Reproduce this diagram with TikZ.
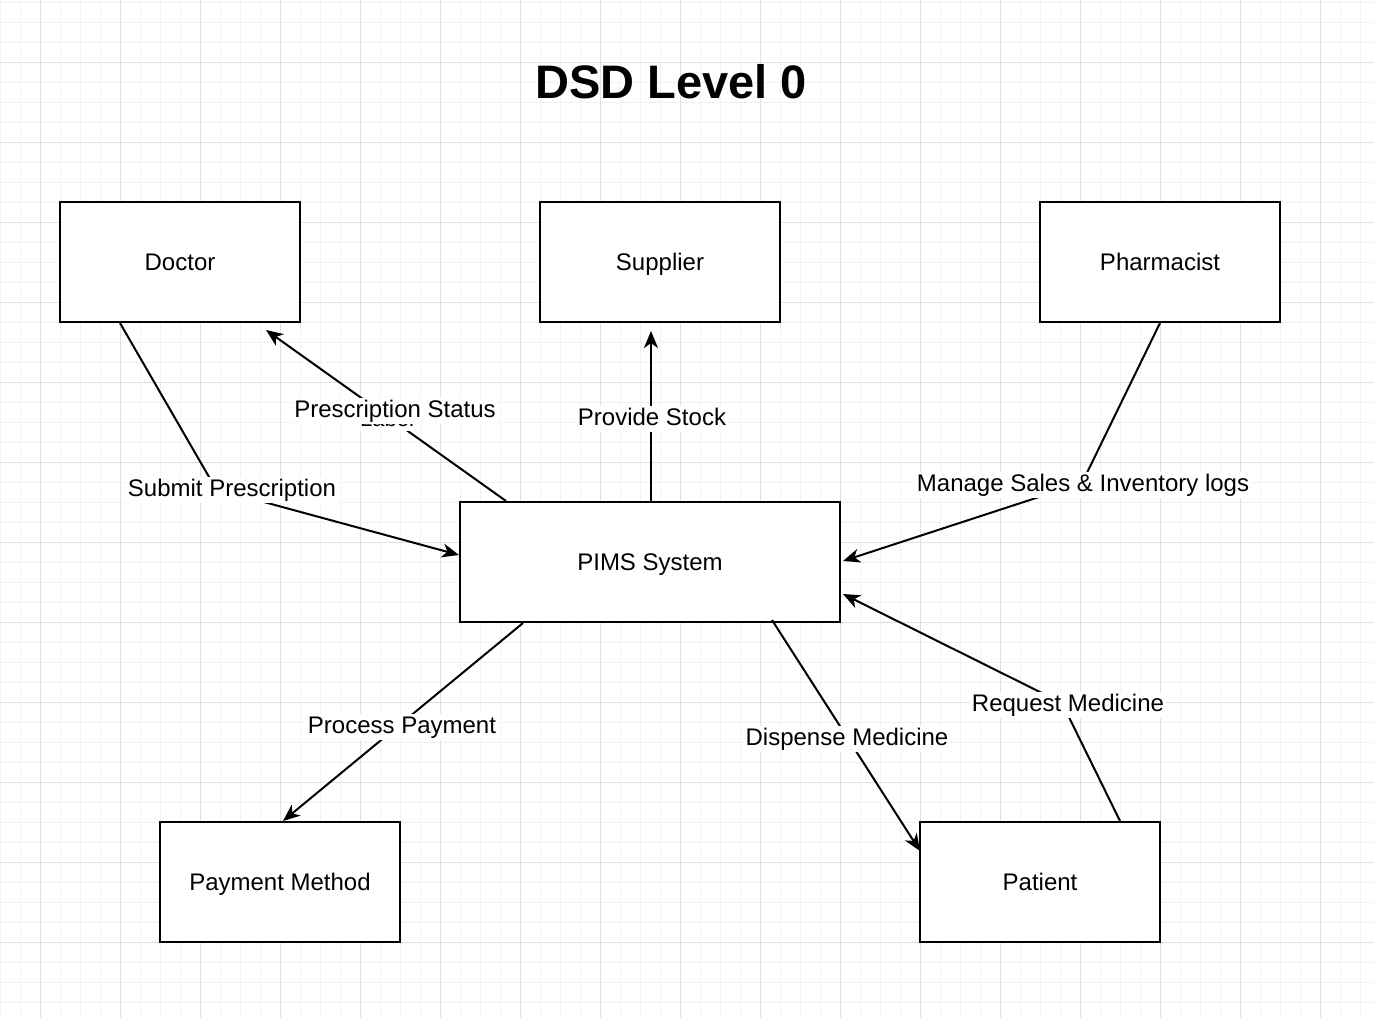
\documentclass[tikz,border=0pt]{standalone}
\usepackage{fontspec}
\setmainfont{Liberation Sans}
\usetikzlibrary{arrows.meta,calc}
\definecolor{gridminor}{RGB}{241,241,241}
\definecolor{gridmajor}{RGB}{224,224,224}
\begin{document}
\begin{tikzpicture}[x=1pt,y=-1pt,
  entity/.style={draw=black,line width=2pt,fill=white,minimum width=240pt,minimum height=120pt,
    inner sep=0pt,text height=17pt,text depth=0pt,font=\fontsize{24}{28}\selectfont},
  flow/.style={line width=2pt,-{Stealth[length=17pt,width=14pt,inset=5pt]}},
  elabel/.style={fill=white,inner sep=1.5pt,text height=18pt,text depth=5pt,font=\fontsize{24}{28}\selectfont},
  ghostlabel/.style={fill=white,inner sep=1pt,text height=16pt,text depth=4pt,font=\fontsize{22}{26}\selectfont}]
\useasboundingbox (0,0) rectangle (1374,1018);
\fill[white] (0,0) rectangle (1374,1018);
% grid
\foreach \x in {0,20,...,1360} \draw[gridminor,line width=1pt] (\x,0) -- (\x,1018);
\foreach \y in {2,22,...,1002} \draw[gridminor,line width=1pt] (0,\y) -- (1374,\y);
\foreach \x in {40,120,...,1320} \draw[gridmajor,line width=1pt] (\x,0) -- (\x,1018);
\foreach \y in {62,142,...,942} \draw[gridmajor,line width=1pt] (0,\y) -- (1374,\y);
% title
\node[font=\fontsize{47}{56}\selectfont\bfseries] (title) at (671,82) {DSD Level 0};
% entities
\node[entity] (doc) at (180,262) {Doctor};
\node[entity] (sup) at (660,262) {Supplier};
\node[entity] (pha) at (1160,262) {Pharmacist};
\node[entity,minimum width=380pt] (pims) at (650,562) {PIMS System};
\node[entity] (pay) at (280,882) {Payment Method};
\node[entity] (pat) at (1040,882) {Patient};
% waypoints
\coordinate (w1) at (216,489);
\coordinate (w4) at (1082,483);
\coordinate (w5) at (1062,703);
% flows
\draw[flow] ([xshift=-60pt]doc.south) -- (w1) -- ($(pims.north west)+(0,54)$);
\node[elabel] (l1) at (232,490) {Submit Prescription};

\draw[flow] ($(pims.north west)+(47,0)$) -- ($(doc.south east)+(-35,7)$);
\node[ghostlabel] (l2b) at (387,420) {Label};
\node[elabel] (l2) at (395,411) {Prescription Status};

\draw[flow] ($(pims.north)+(1,0)$) -- ($(sup.south)+(-9,8)$);
\node[elabel] (l3) at (652,419) {Provide Stock};

\draw[flow] (pha.south) -- (w4) -- ($(pims.east)+(2,-1)$);
\node[elabel] (l4) at (1083,485) {Manage Sales \& Inventory logs};

\draw[flow] ($(pat.north)+(80,0)$) -- (w5) -- ($(pims.south east)+(2,-29)$);
\node[elabel] (l5) at (1068,705) {Request Medicine};

\draw[flow] ($(pims.south east)+(-69,-3)$) -- ($(pat.north west)+(1,30)$);
\node[elabel] (l6) at (847,739) {Dispense Medicine};

\draw[flow] ($(pims.south west)+(64,0)$) -- ($(pay.north)+(3,0)$);
\node[elabel] (l7) at (402,727) {Process Payment};
\end{tikzpicture}
\end{document}
